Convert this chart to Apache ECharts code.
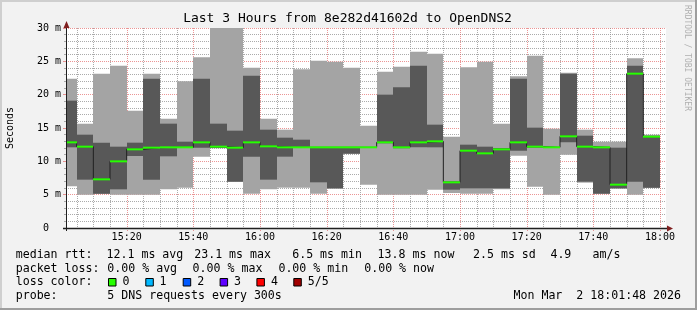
<!DOCTYPE html>
<html><head><meta charset="utf-8">
<script src="https://cdn.jsdelivr.net/npm/echarts@6/dist/echarts.min.js"></script>
<style>html,body{margin:0;padding:0;background:#f2f2f2}#c{width:697px;height:310px}</style>
</head><body><div id="c"></div>
<script>
// ---- data ----
const windowStart = '15:01:48';
const windowEnd = '18:01:48';
const binEnds = ['15:05','15:10','15:15','15:20','15:25','15:30','15:35','15:40','15:45','15:50','15:55','16:00',
  '16:05','16:10','16:15','16:20','16:25','16:30','16:35','16:40','16:45','16:50','16:55','17:00',
  '17:05','17:10','17:15','17:20','17:25','17:30','17:35','17:40','17:45','17:50','17:55','18:00'];
const pingMin = [6.25,5.0,5.1,5.0,5.0,5.0,5.8,6.05,10.7,11.95,6.9,5.15,5.8,6.05,6.05,5.15,5.9,11.1,6.5,5.0,5.0,5.0,5.75,5.25,5.15,5.15,5.8,10.85,6.2,5.0,11.0,6.8,5.1,5.9,5.0,6.0];
const ping2 = [12.1,7.25,5.15,5.8,10.8,7.25,10.75,12.0,12.05,12.0,6.95,10.7,7.25,10.7,12.05,6.85,5.95,11.15,12.05,12.7,11.95,12.1,12.1,5.75,5.95,5.95,5.95,11.6,12.05,12.05,12.85,6.95,5.15,5.95,6.95,6.05];
const median = [12.85,12.2,7.3,10.0,11.8,12.05,12.1,12.1,12.85,12.2,12.05,12.85,12.25,12.1,12.1,12.1,12.1,12.1,12.1,12.85,12.1,12.85,13.0,6.85,11.6,11.2,11.8,12.85,12.2,12.1,13.75,12.2,12.1,6.5,23.15,13.7];
const ping4 = [19.1,14.0,12.8,12.2,12.8,22.4,15.65,12.95,22.4,15.65,14.6,22.85,14.75,13.55,13.25,12.15,12.15,12.15,12.15,20.0,21.1,24.35,15.5,7.0,12.5,12.2,12.0,22.4,15.05,12.15,23.15,13.85,12.15,12.05,24.35,13.85];
const pingMax = [22.4,15.65,23.15,24.35,17.6,23.15,16.4,22.0,25.6,30,30,24.05,16.4,14.75,23.8,25.1,24.95,24.05,15.35,23.45,24.2,26.45,26.15,13.7,24.1,24.95,15.65,22.75,25.85,14.9,23.3,14.75,12.95,12.95,25.45,14.0];
const xTickLabels = ['15:20','15:40','16:00','16:20','16:40','17:00','17:20','17:40','18:00'];
const lossLabels = ['0','1','2','3','4','5/5'];
const lossColors = ['#26ff00','#00b8ff','#0059ff','#5e00ff','#ff0000','#a10000'];

// ---- helpers ----
function toMin(s){ const p = s.split(':').map(Number); return (p[0]-15)*60 + p[1] + (p[2]||0)/60; }
function fmtMin(v){ const t = Math.round(v); const h = 15 + Math.floor(t/60), m = t%60; return h + ':' + (m<10?'0':'') + m; }
const FONT = '"DejaVu Sans Mono", monospace';
const GRID_MINOR = 'rgba(143,143,143,0.75)';
const GRID_MAJOR = 'rgba(222,79,79,0.6)';
const AXIS_COL = '#1f1f1f';

const bins = binEnds.map((e,i)=>[i===0?toMin(windowStart):toMin(binEnds[i-1]), toMin(e), pingMin[i], ping2[i], ping4[i], pingMax[i], median[i]]);
const medianSteps = bins.map(b=>[b[0], b[6]]);
medianSteps.push([bins[bins.length-1][1], bins[bins.length-1][6]]);
const gridLines = binEnds.map(toMin);

const chart = echarts.init(document.getElementById('c'), null, {renderer:'canvas'});

function renderBars(params, api){
  const s = api.value(0), e = api.value(1);
  const a = api.coord([s, api.value(2)]), b = api.coord([e, api.value(5)]);
  const c = api.coord([s, api.value(3)]), d = api.coord([e, api.value(4)]);
  const x0 = Math.round(a[0]) + (params.dataIndex === 0 ? 1 : 0), x1 = Math.round(b[0]);
  return {type:'group', children:[
    {type:'rect', shape:{x:x0, y:b[1], width:x1-x0, height:a[1]-b[1]}, style:{fill:'#a4a4a4'}},
    {type:'rect', shape:{x:x0, y:d[1], width:x1-x0, height:c[1]-d[1]}, style:{fill:'#585858'}}
  ]};
}
function renderMedian(params, api){
  const a = api.coord([api.value(0), api.value(6)]), b = api.coord([api.value(1), api.value(6)]);
  const x0 = Math.round(a[0]) + (params.dataIndex === 0 ? 1 : 0), x1 = Math.round(b[0]);
  return {type:'rect', shape:{x:x0, y:a[1]-1, width:x1-x0, height:2}, style:{fill:'#26ff00'}};
}
function renderGrid(params, api){
  const t = api.value(0);
  const top = api.coord([t, 30]), bot = api.coord([t, 0]);
  const x = Math.round(top[0]) + 0.5;
  const major = Math.round(t) % 20 === 0;
  return {type:'line', shape:{x1:x, y1:top[1], x2:x, y2:bot[1] + (major?3:2)},
    style:{stroke: major?GRID_MAJOR:GRID_MINOR, lineWidth:1, lineDash:[1,1]}};
}

const legendY = [255, 268.5, 282, 296];
const LFONT = '11.6px ' + FONT;
const txt = (x, y, s, align) => ({type:'text', x:x, y:y, z:10,
  style:{text:s, font:LFONT, fill:'#000', align:align||'left', verticalAlign:'middle'}});

const graphics = [
  {type:'rect', shape:{x:0,y:0,width:697,height:2}, style:{fill:'#cfcfcf'}},
  {type:'rect', shape:{x:0,y:0,width:2,height:310}, style:{fill:'#cfcfcf'}},
  {type:'rect', shape:{x:0,y:308,width:697,height:2}, style:{fill:'#9e9e9e'}},
  {type:'rect', shape:{x:695,y:0,width:2,height:310}, style:{fill:'#9e9e9e'}},
  {type:'text', x:347.5, y:19, style:{text:'Last 3 Hours from 8e282d41602d to OpenDNS2', font:'13px ' + FONT, fill:'#000', align:'center', verticalAlign:'middle'}},
  {type:'text', x:10.5, y:128, rotation:Math.PI/2, style:{text:'Seconds', font:'10px ' + FONT, fill:'#000', align:'center', verticalAlign:'middle'}},
  {type:'text', x:687, y:5, rotation:-Math.PI/2, style:{text:'RRDTOOL / TOBI OETIKER', font:'8px ' + FONT, fill:'#b0b0b0', align:'left', verticalAlign:'middle'}},
  // axis lines (rrdtool style, slightly overshooting the canvas)
  {type:'line', z:10, shape:{x1:66.5, y1:231, x2:66.5, y2:27}, style:{stroke:AXIS_COL, lineWidth:1}},
  {type:'line', z:10, shape:{x1:63, y1:228.5, x2:668, y2:228.5}, style:{stroke:AXIS_COL, lineWidth:1.6}},
  {type:'polygon', z:10, shape:{points:[[63.5,28],[69.5,28],[66.5,21]]}, style:{fill:'#801f1f'}},
  {type:'polygon', z:10, shape:{points:[[667,225.5],[667,231.5],[673,228.5]]}, style:{fill:'#801f1f'}},
  txt(15.7, legendY[0], 'median rtt:'),
  txt(106.5, legendY[0], '12.1 ms avg'),
  txt(194.2, legendY[0], '23.1 ms max'),
  txt(292.2, legendY[0], '6.5 ms min'),
  txt(377.6, legendY[0], '13.8 ms now'),
  txt(473, legendY[0], '2.5 ms sd'),
  txt(550.4, legendY[0], '4.9'),
  txt(592.6, legendY[0], 'am/s'),
  txt(15.7, legendY[1], 'packet loss:'),
  txt(107.3, legendY[1], '0.00 % avg'),
  txt(192.6, legendY[1], '0.00 % max'),
  txt(278.4, legendY[1], '0.00 % min'),
  txt(364.2, legendY[1], '0.00 % now'),
  txt(15.7, legendY[2], 'loss color:'),
  txt(15.7, legendY[3], 'probe:'),
  txt(107.3, legendY[3], '5 DNS requests every 300s'),
  txt(681, legendY[3], 'Mon Mar  2 18:01:48 2026', 'right')
];
const boxX = [108, 145.3, 182.7, 219.6, 256.4, 293.3];
const labX = [122.5, 159.4, 197.2, 234.1, 271, 307.8];
lossLabels.forEach((l,i)=>{
  graphics.push({type:'rect', z:10, shape:{x:boxX[i]+0.5, y:278.5, width:7.5, height:7.5}, style:{fill:lossColors[i], stroke:'#000', lineWidth:1}});
  graphics.push(txt(labX[i], legendY[2], l));
});

chart.setOption({
  animation:false,
  backgroundColor:'#f2f2f2',
  grid:{left:66, top:28, width:600, height:200, show:true, backgroundColor:'#ffffff', borderWidth:0},
  xAxis:{type:'value', min:toMin(windowStart), max:toMin(windowEnd), z:0,
    axisLine:{show:false},
    axisTick:{show:false}, splitLine:{show:false},
    axisLabel:{customValues: xTickLabels.map(toMin), formatter: v => fmtMin(v), margin:4,
      fontFamily:FONT, fontSize:10, color:'#000'}},
  yAxis:{type:'value', min:0, max:30, interval:5, z:0,
    axisLine:{show:false},
    axisTick:{show:true, length:3, lineStyle:{color:GRID_MAJOR}},
    minorTick:{show:true, splitNumber:5, length:2, lineStyle:{color:GRID_MINOR}},
    splitLine:{show:true, lineStyle:{color:GRID_MAJOR, type:[1,1], width:1}},
    minorSplitLine:{show:true, lineStyle:{color:GRID_MINOR, type:[1,1], width:1}},
    axisLabel:{margin:5, fontFamily:FONT, fontSize:10, color:'#000', formatter: v => v===0 ? '0  ' : v + ' m'}},
  graphic: graphics,
  series:[
    {type:'custom', z:1, renderItem:renderGrid, data:gridLines.map(t=>[t]), encode:{x:0}, silent:true},
    {type:'custom', z:2, renderItem:renderBars, data:bins, encode:{x:[0,1], y:[2,5]}, silent:true},
    {type:'line', z:4, step:'end', data:medianSteps, symbol:'none', lineStyle:{color:'#202020', width:1}, silent:true},
    {type:'custom', z:5, renderItem:renderMedian, data:bins, encode:{x:[0,1], y:6}, silent:true}
  ]
});
</script></body></html>
